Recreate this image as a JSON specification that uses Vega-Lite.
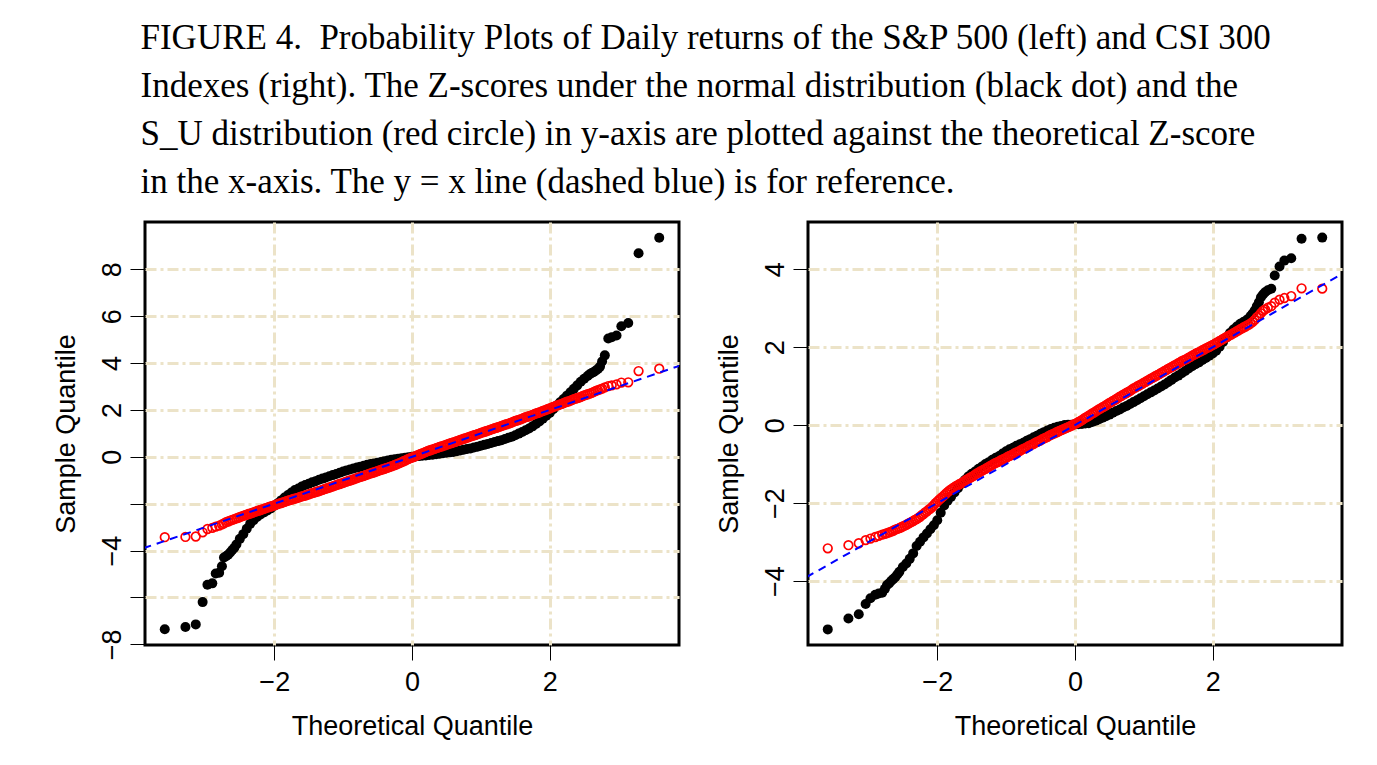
{
  "$schema": "https://vega.github.io/schema/vega-lite/v6.json",
  "background": "white",
  "padding": {"left": 50, "top": 20, "right": 5, "bottom": 5},
  "title": {
    "text": ["FIGURE 4.\u00a0 Probability Plots of Daily returns of the S&P 500 (left) and CSI 300", "Indexes (right). The Z-scores under the normal distribution (black dot) and the", "S_U distribution (red circle) in y-axis are plotted against the theoretical Z-score", "in the x-axis. The y = x line (dashed blue) is for reference."],
    "anchor": "start", "font": "Liberation Serif", "fontSize": 35, "fontWeight": "normal", "lineHeight": 48, "color": "black", "dx": 90, "offset": 21
  },
  "config": {
    "view": {"stroke": "black", "strokeWidth": 3},
    "axis": {
      "labelFont": "Liberation Sans", "labelFontSize": 27, "labelColor": "black",
      "titleFont": "Liberation Sans", "titleFontSize": 27, "titleFontWeight": "normal", "titleColor": "black",
      "domain": false, "ticks": true, "tickColor": "black", "tickWidth": 1, "tickSize": 15,
      "grid": true, "gridColor": "#ECE3C8", "gridWidth": 3, "gridDash": [11, 4, 3, 4], "gridOpacity": 1,
      "labelFlush": false, "labelOverlap": false
    }
  },
  "datasets": {
    "ref": [{"x": -3.9, "y": -3.9}, {"x": 3.9, "y": 3.9}],
    "sp_n": [{"x":-3.59,"y":-7.36},{"x":-3.29,"y":-7.26},{"x":-3.14,"y":-7.15},{"x":-3.04,"y":-6.2},{"x":-2.97,"y":-5.46},{"x":-2.9,"y":-5.4},{"x":-2.85,"y":-4.98},{"x":-2.8,"y":-4.95},{"x":-2.76,"y":-4.67},{"x":-2.73,"y":-4.3},{"x":-2.7,"y":-4.24},{"x":-2.67,"y":-4.18},{"x":-2.64,"y":-4.08},{"x":-2.61,"y":-3.98},{"x":-2.58,"y":-3.88},{"x":-2.55,"y":-3.74},{"x":-2.5,"y":-3.5},{"x":-2.45,"y":-3.3},{"x":-2.4,"y":-3.07},{"x":-2.35,"y":-2.86},{"x":-2.3,"y":-2.7},{"x":-2.25,"y":-2.57},{"x":-2.2,"y":-2.46},{"x":-2.15,"y":-2.37},{"x":-2.1,"y":-2.29},{"x":-2.05,"y":-2.2},{"x":-2,"y":-2.09},{"x":-1.95,"y":-1.98},{"x":-1.9,"y":-1.86},{"x":-1.85,"y":-1.74},{"x":-1.8,"y":-1.63},{"x":-1.75,"y":-1.52},{"x":-1.7,"y":-1.42},{"x":-1.65,"y":-1.35},{"x":-1.6,"y":-1.27},{"x":-1.55,"y":-1.2},{"x":-1.5,"y":-1.15},{"x":-1.45,"y":-1.09},{"x":-1.4,"y":-1.04},{"x":-1.35,"y":-0.98},{"x":-1.3,"y":-0.93},{"x":-1.25,"y":-0.88},{"x":-1.2,"y":-0.83},{"x":-1.15,"y":-0.78},{"x":-1.1,"y":-0.73},{"x":-1.05,"y":-0.68},{"x":-1,"y":-0.63},{"x":-0.95,"y":-0.58},{"x":-0.9,"y":-0.54},{"x":-0.85,"y":-0.5},{"x":-0.8,"y":-0.46},{"x":-0.75,"y":-0.42},{"x":-0.7,"y":-0.38},{"x":-0.65,"y":-0.34},{"x":-0.6,"y":-0.31},{"x":-0.55,"y":-0.28},{"x":-0.5,"y":-0.25},{"x":-0.45,"y":-0.22},{"x":-0.4,"y":-0.19},{"x":-0.35,"y":-0.16},{"x":-0.3,"y":-0.13},{"x":-0.25,"y":-0.1},{"x":-0.2,"y":-0.08},{"x":-0.15,"y":-0.06},{"x":-0.1,"y":-0.04},{"x":-0.05,"y":-0.02},{"x":0,"y":0},{"x":0.05,"y":0.01},{"x":0.1,"y":0.03},{"x":0.15,"y":0.05},{"x":0.2,"y":0.06},{"x":0.25,"y":0.08},{"x":0.3,"y":0.09},{"x":0.35,"y":0.11},{"x":0.4,"y":0.13},{"x":0.45,"y":0.15},{"x":0.5,"y":0.17},{"x":0.55,"y":0.19},{"x":0.6,"y":0.21},{"x":0.65,"y":0.24},{"x":0.7,"y":0.27},{"x":0.75,"y":0.3},{"x":0.8,"y":0.33},{"x":0.85,"y":0.36},{"x":0.9,"y":0.4},{"x":0.95,"y":0.43},{"x":1,"y":0.47},{"x":1.05,"y":0.51},{"x":1.1,"y":0.55},{"x":1.15,"y":0.59},{"x":1.2,"y":0.63},{"x":1.25,"y":0.67},{"x":1.3,"y":0.71},{"x":1.35,"y":0.76},{"x":1.4,"y":0.81},{"x":1.45,"y":0.86},{"x":1.5,"y":0.92},{"x":1.55,"y":0.99},{"x":1.6,"y":1.06},{"x":1.65,"y":1.13},{"x":1.7,"y":1.21},{"x":1.75,"y":1.3},{"x":1.8,"y":1.4},{"x":1.85,"y":1.51},{"x":1.9,"y":1.63},{"x":1.95,"y":1.75},{"x":2,"y":1.87},{"x":2.05,"y":2.03},{"x":2.1,"y":2.19},{"x":2.15,"y":2.33},{"x":2.2,"y":2.47},{"x":2.25,"y":2.61},{"x":2.3,"y":2.75},{"x":2.35,"y":2.9},{"x":2.4,"y":3.05},{"x":2.45,"y":3.2},{"x":2.5,"y":3.33},{"x":2.55,"y":3.45},{"x":2.58,"y":3.52},{"x":2.61,"y":3.58},{"x":2.64,"y":3.62},{"x":2.67,"y":3.68},{"x":2.7,"y":3.75},{"x":2.73,"y":3.85},{"x":2.76,"y":4.07},{"x":2.8,"y":4.33},{"x":2.85,"y":5.05},{"x":2.9,"y":5.1},{"x":2.97,"y":5.18},{"x":3.04,"y":5.57},{"x":3.14,"y":5.71},{"x":3.29,"y":8.69},{"x":3.59,"y":9.35}],
    "sp_su": [{"x":-3.59,"y":-3.43},{"x":-3.29,"y":-3.42},{"x":-3.14,"y":-3.4},{"x":-3.04,"y":-3.22},{"x":-2.97,"y":-3.08},{"x":-2.9,"y":-3.03},{"x":-2.85,"y":-2.98},{"x":-2.8,"y":-2.94},{"x":-2.76,"y":-2.88},{"x":-2.73,"y":-2.84},{"x":-2.7,"y":-2.79},{"x":-2.67,"y":-2.76},{"x":-2.64,"y":-2.72},{"x":-2.61,"y":-2.69},{"x":-2.58,"y":-2.66},{"x":-2.55,"y":-2.63},{"x":-2.5,"y":-2.57},{"x":-2.45,"y":-2.52},{"x":-2.4,"y":-2.47},{"x":-2.35,"y":-2.42},{"x":-2.3,"y":-2.37},{"x":-2.25,"y":-2.32},{"x":-2.2,"y":-2.27},{"x":-2.15,"y":-2.22},{"x":-2.1,"y":-2.17},{"x":-2.05,"y":-2.12},{"x":-2,"y":-2.07},{"x":-1.95,"y":-2.02},{"x":-1.9,"y":-1.97},{"x":-1.85,"y":-1.92},{"x":-1.8,"y":-1.87},{"x":-1.75,"y":-1.83},{"x":-1.7,"y":-1.78},{"x":-1.65,"y":-1.74},{"x":-1.6,"y":-1.69},{"x":-1.55,"y":-1.65},{"x":-1.5,"y":-1.6},{"x":-1.45,"y":-1.55},{"x":-1.4,"y":-1.51},{"x":-1.35,"y":-1.46},{"x":-1.3,"y":-1.41},{"x":-1.25,"y":-1.36},{"x":-1.2,"y":-1.31},{"x":-1.15,"y":-1.26},{"x":-1.1,"y":-1.21},{"x":-1.05,"y":-1.16},{"x":-1,"y":-1.11},{"x":-0.95,"y":-1.06},{"x":-0.9,"y":-1.01},{"x":-0.85,"y":-0.96},{"x":-0.8,"y":-0.91},{"x":-0.75,"y":-0.86},{"x":-0.7,"y":-0.81},{"x":-0.65,"y":-0.76},{"x":-0.6,"y":-0.71},{"x":-0.55,"y":-0.66},{"x":-0.5,"y":-0.61},{"x":-0.45,"y":-0.56},{"x":-0.4,"y":-0.51},{"x":-0.35,"y":-0.46},{"x":-0.3,"y":-0.41},{"x":-0.25,"y":-0.35},{"x":-0.2,"y":-0.29},{"x":-0.15,"y":-0.23},{"x":-0.1,"y":-0.16},{"x":-0.05,"y":-0.09},{"x":0,"y":-0.03},{"x":0.05,"y":0.03},{"x":0.1,"y":0.09},{"x":0.15,"y":0.15},{"x":0.2,"y":0.21},{"x":0.25,"y":0.27},{"x":0.3,"y":0.32},{"x":0.35,"y":0.37},{"x":0.4,"y":0.42},{"x":0.45,"y":0.47},{"x":0.5,"y":0.52},{"x":0.55,"y":0.57},{"x":0.6,"y":0.62},{"x":0.65,"y":0.67},{"x":0.7,"y":0.72},{"x":0.75,"y":0.77},{"x":0.8,"y":0.82},{"x":0.85,"y":0.87},{"x":0.9,"y":0.92},{"x":0.95,"y":0.97},{"x":1,"y":1.02},{"x":1.05,"y":1.07},{"x":1.1,"y":1.12},{"x":1.15,"y":1.17},{"x":1.2,"y":1.22},{"x":1.25,"y":1.27},{"x":1.3,"y":1.32},{"x":1.35,"y":1.37},{"x":1.4,"y":1.42},{"x":1.45,"y":1.47},{"x":1.5,"y":1.53},{"x":1.55,"y":1.58},{"x":1.6,"y":1.63},{"x":1.65,"y":1.69},{"x":1.7,"y":1.74},{"x":1.75,"y":1.79},{"x":1.8,"y":1.85},{"x":1.85,"y":1.9},{"x":1.9,"y":1.96},{"x":1.95,"y":2.01},{"x":2,"y":2.07},{"x":2.05,"y":2.13},{"x":2.1,"y":2.18},{"x":2.15,"y":2.24},{"x":2.2,"y":2.29},{"x":2.25,"y":2.35},{"x":2.3,"y":2.4},{"x":2.35,"y":2.46},{"x":2.4,"y":2.51},{"x":2.45,"y":2.56},{"x":2.5,"y":2.62},{"x":2.55,"y":2.67},{"x":2.58,"y":2.7},{"x":2.61,"y":2.73},{"x":2.64,"y":2.77},{"x":2.67,"y":2.81},{"x":2.7,"y":2.85},{"x":2.73,"y":2.88},{"x":2.76,"y":2.91},{"x":2.8,"y":2.96},{"x":2.85,"y":3.02},{"x":2.9,"y":3.05},{"x":2.97,"y":3.09},{"x":3.04,"y":3.17},{"x":3.14,"y":3.18},{"x":3.29,"y":3.66},{"x":3.59,"y":3.76},
      {"x":-2.525,"y":-2.6},{"x":-2.475,"y":-2.54},{"x":-2.425,"y":-2.49},{"x":-2.375,"y":-2.44},{"x":-2.325,"y":-2.39},{"x":-2.275,"y":-2.34},{"x":-2.225,"y":-2.29},{"x":-2.175,"y":-2.24},{"x":-2.125,"y":-2.19},{"x":-2.075,"y":-2.14},{"x":-2.025,"y":-2.09},{"x":-1.975,"y":-2.04},{"x":-1.925,"y":-1.99},{"x":-1.875,"y":-1.94},{"x":-1.825,"y":-1.89},{"x":-1.775,"y":-1.85},{"x":-1.725,"y":-1.8},{"x":-1.675,"y":-1.76},{"x":-1.625,"y":-1.71},{"x":-1.575,"y":-1.67},{"x":-1.525,"y":-1.62},{"x":-1.475,"y":-1.57},{"x":-1.425,"y":-1.53},{"x":-1.375,"y":-1.48},{"x":-1.325,"y":-1.43},{"x":-1.275,"y":-1.38},{"x":-1.225,"y":-1.33},{"x":-1.175,"y":-1.28},{"x":-1.125,"y":-1.23},{"x":-1.075,"y":-1.18},{"x":-1.025,"y":-1.13},{"x":-0.975,"y":-1.08},{"x":-0.925,"y":-1.03},{"x":-0.875,"y":-0.98},{"x":-0.825,"y":-0.93},{"x":-0.775,"y":-0.88},{"x":-0.725,"y":-0.83},{"x":-0.675,"y":-0.78},{"x":-0.625,"y":-0.73},{"x":-0.575,"y":-0.68},{"x":-0.525,"y":-0.63},{"x":-0.475,"y":-0.58},{"x":-0.425,"y":-0.53},{"x":-0.375,"y":-0.48},{"x":-0.325,"y":-0.43},{"x":-0.275,"y":-0.38},{"x":-0.225,"y":-0.32},{"x":-0.175,"y":-0.26},{"x":-0.125,"y":-0.19},{"x":-0.075,"y":-0.12},{"x":-0.025,"y":-0.06},{"x":0.025,"y":0},{"x":0.075,"y":0.06},{"x":0.125,"y":0.12},{"x":0.175,"y":0.18},{"x":0.225,"y":0.24},{"x":0.275,"y":0.29},{"x":0.325,"y":0.34},{"x":0.375,"y":0.39},{"x":0.425,"y":0.44},{"x":0.475,"y":0.49},{"x":0.525,"y":0.54},{"x":0.575,"y":0.59},{"x":0.625,"y":0.64},{"x":0.675,"y":0.69},{"x":0.725,"y":0.74},{"x":0.775,"y":0.79},{"x":0.825,"y":0.84},{"x":0.875,"y":0.89},{"x":0.925,"y":0.94},{"x":0.975,"y":0.99},{"x":1.025,"y":1.04},{"x":1.075,"y":1.09},{"x":1.125,"y":1.14},{"x":1.175,"y":1.19},{"x":1.225,"y":1.24},{"x":1.275,"y":1.29},{"x":1.325,"y":1.34},{"x":1.375,"y":1.39},{"x":1.425,"y":1.44},{"x":1.475,"y":1.5},{"x":1.525,"y":1.55},{"x":1.575,"y":1.6},{"x":1.625,"y":1.66},{"x":1.675,"y":1.71},{"x":1.725,"y":1.76},{"x":1.775,"y":1.82},{"x":1.825,"y":1.87},{"x":1.875,"y":1.93},{"x":1.925,"y":1.98},{"x":1.975,"y":2.04},{"x":2.025,"y":2.1},{"x":2.075,"y":2.15},{"x":2.125,"y":2.21},{"x":2.175,"y":2.26},{"x":2.225,"y":2.32},{"x":2.275,"y":2.37},{"x":2.325,"y":2.43},{"x":2.375,"y":2.48},{"x":2.425,"y":2.53},{"x":2.475,"y":2.59},{"x":2.525,"y":2.64}],
    "csi_n": [{"x":-3.59,"y":-5.24},{"x":-3.29,"y":-4.96},{"x":-3.14,"y":-4.85},{"x":-3.04,"y":-4.59},{"x":-2.97,"y":-4.44},{"x":-2.9,"y":-4.35},{"x":-2.85,"y":-4.32},{"x":-2.8,"y":-4.3},{"x":-2.76,"y":-4.2},{"x":-2.73,"y":-4.1},{"x":-2.7,"y":-4.06},{"x":-2.67,"y":-4},{"x":-2.64,"y":-3.95},{"x":-2.61,"y":-3.9},{"x":-2.58,"y":-3.83},{"x":-2.55,"y":-3.76},{"x":-2.5,"y":-3.64},{"x":-2.45,"y":-3.55},{"x":-2.4,"y":-3.43},{"x":-2.35,"y":-3.29},{"x":-2.3,"y":-3.1},{"x":-2.25,"y":-2.99},{"x":-2.2,"y":-2.88},{"x":-2.15,"y":-2.78},{"x":-2.1,"y":-2.67},{"x":-2.05,"y":-2.57},{"x":-2,"y":-2.44},{"x":-1.95,"y":-2.25},{"x":-1.9,"y":-2.06},{"x":-1.85,"y":-1.94},{"x":-1.8,"y":-1.84},{"x":-1.75,"y":-1.73},{"x":-1.7,"y":-1.62},{"x":-1.65,"y":-1.51},{"x":-1.6,"y":-1.41},{"x":-1.55,"y":-1.32},{"x":-1.5,"y":-1.25},{"x":-1.45,"y":-1.19},{"x":-1.4,"y":-1.12},{"x":-1.35,"y":-1.06},{"x":-1.3,"y":-1},{"x":-1.25,"y":-0.95},{"x":-1.2,"y":-0.89},{"x":-1.15,"y":-0.84},{"x":-1.1,"y":-0.79},{"x":-1.05,"y":-0.73},{"x":-1,"y":-0.67},{"x":-0.95,"y":-0.62},{"x":-0.9,"y":-0.58},{"x":-0.85,"y":-0.53},{"x":-0.8,"y":-0.49},{"x":-0.75,"y":-0.45},{"x":-0.7,"y":-0.4},{"x":-0.65,"y":-0.36},{"x":-0.6,"y":-0.31},{"x":-0.55,"y":-0.27},{"x":-0.5,"y":-0.22},{"x":-0.45,"y":-0.18},{"x":-0.4,"y":-0.14},{"x":-0.35,"y":-0.1},{"x":-0.3,"y":-0.07},{"x":-0.25,"y":-0.04},{"x":-0.2,"y":-0.02},{"x":-0.15,"y":0},{"x":-0.1,"y":0.01},{"x":-0.05,"y":0.01},{"x":0,"y":0.02},{"x":0.05,"y":0.02},{"x":0.1,"y":0.03},{"x":0.15,"y":0.04},{"x":0.2,"y":0.05},{"x":0.25,"y":0.08},{"x":0.3,"y":0.11},{"x":0.35,"y":0.15},{"x":0.4,"y":0.19},{"x":0.45,"y":0.23},{"x":0.5,"y":0.27},{"x":0.55,"y":0.32},{"x":0.6,"y":0.36},{"x":0.65,"y":0.4},{"x":0.7,"y":0.45},{"x":0.75,"y":0.49},{"x":0.8,"y":0.54},{"x":0.85,"y":0.59},{"x":0.9,"y":0.64},{"x":0.95,"y":0.69},{"x":1,"y":0.74},{"x":1.05,"y":0.79},{"x":1.1,"y":0.84},{"x":1.15,"y":0.89},{"x":1.2,"y":0.94},{"x":1.25,"y":0.99},{"x":1.3,"y":1.04},{"x":1.35,"y":1.1},{"x":1.4,"y":1.16},{"x":1.45,"y":1.22},{"x":1.5,"y":1.27},{"x":1.55,"y":1.33},{"x":1.6,"y":1.39},{"x":1.65,"y":1.45},{"x":1.7,"y":1.51},{"x":1.75,"y":1.56},{"x":1.8,"y":1.61},{"x":1.85,"y":1.67},{"x":1.9,"y":1.72},{"x":1.95,"y":1.78},{"x":2,"y":1.84},{"x":2.05,"y":1.91},{"x":2.1,"y":2.01},{"x":2.15,"y":2.13},{"x":2.2,"y":2.25},{"x":2.25,"y":2.36},{"x":2.3,"y":2.45},{"x":2.35,"y":2.53},{"x":2.4,"y":2.6},{"x":2.45,"y":2.65},{"x":2.5,"y":2.71},{"x":2.55,"y":2.8},{"x":2.58,"y":2.86},{"x":2.61,"y":2.94},{"x":2.64,"y":3.05},{"x":2.67,"y":3.15},{"x":2.7,"y":3.28},{"x":2.73,"y":3.35},{"x":2.76,"y":3.41},{"x":2.8,"y":3.46},{"x":2.85,"y":3.5},{"x":2.9,"y":3.84},{"x":2.97,"y":4.07},{"x":3.04,"y":4.22},{"x":3.14,"y":4.28},{"x":3.29,"y":4.78},{"x":3.59,"y":4.81}],
    "csi_su": [{"x":-3.59,"y":-3.16},{"x":-3.29,"y":-3.08},{"x":-3.14,"y":-3.03},{"x":-3.04,"y":-2.95},{"x":-2.97,"y":-2.91},{"x":-2.9,"y":-2.87},{"x":-2.85,"y":-2.84},{"x":-2.8,"y":-2.81},{"x":-2.76,"y":-2.79},{"x":-2.73,"y":-2.77},{"x":-2.7,"y":-2.75},{"x":-2.67,"y":-2.73},{"x":-2.64,"y":-2.71},{"x":-2.61,"y":-2.68},{"x":-2.58,"y":-2.66},{"x":-2.55,"y":-2.64},{"x":-2.5,"y":-2.6},{"x":-2.45,"y":-2.56},{"x":-2.4,"y":-2.51},{"x":-2.35,"y":-2.46},{"x":-2.3,"y":-2.41},{"x":-2.25,"y":-2.35},{"x":-2.2,"y":-2.28},{"x":-2.15,"y":-2.21},{"x":-2.1,"y":-2.14},{"x":-2.05,"y":-2.05},{"x":-2,"y":-1.96},{"x":-1.95,"y":-1.88},{"x":-1.9,"y":-1.8},{"x":-1.85,"y":-1.72},{"x":-1.8,"y":-1.65},{"x":-1.75,"y":-1.59},{"x":-1.7,"y":-1.54},{"x":-1.65,"y":-1.49},{"x":-1.6,"y":-1.43},{"x":-1.55,"y":-1.38},{"x":-1.5,"y":-1.33},{"x":-1.45,"y":-1.27},{"x":-1.4,"y":-1.22},{"x":-1.35,"y":-1.17},{"x":-1.3,"y":-1.12},{"x":-1.25,"y":-1.07},{"x":-1.2,"y":-1.02},{"x":-1.15,"y":-0.97},{"x":-1.1,"y":-0.93},{"x":-1.05,"y":-0.88},{"x":-1,"y":-0.84},{"x":-0.95,"y":-0.79},{"x":-0.9,"y":-0.75},{"x":-0.85,"y":-0.7},{"x":-0.8,"y":-0.66},{"x":-0.75,"y":-0.61},{"x":-0.7,"y":-0.57},{"x":-0.65,"y":-0.52},{"x":-0.6,"y":-0.48},{"x":-0.55,"y":-0.43},{"x":-0.5,"y":-0.39},{"x":-0.45,"y":-0.34},{"x":-0.4,"y":-0.3},{"x":-0.35,"y":-0.25},{"x":-0.3,"y":-0.21},{"x":-0.25,"y":-0.17},{"x":-0.2,"y":-0.13},{"x":-0.15,"y":-0.09},{"x":-0.1,"y":-0.05},{"x":-0.05,"y":-0.01},{"x":0,"y":0.03},{"x":0.05,"y":0.08},{"x":0.1,"y":0.13},{"x":0.15,"y":0.19},{"x":0.2,"y":0.24},{"x":0.25,"y":0.3},{"x":0.3,"y":0.35},{"x":0.35,"y":0.41},{"x":0.4,"y":0.46},{"x":0.45,"y":0.51},{"x":0.5,"y":0.57},{"x":0.55,"y":0.62},{"x":0.6,"y":0.67},{"x":0.65,"y":0.73},{"x":0.7,"y":0.78},{"x":0.75,"y":0.83},{"x":0.8,"y":0.88},{"x":0.85,"y":0.94},{"x":0.9,"y":0.99},{"x":0.95,"y":1.04},{"x":1,"y":1.09},{"x":1.05,"y":1.14},{"x":1.1,"y":1.19},{"x":1.15,"y":1.24},{"x":1.2,"y":1.29},{"x":1.25,"y":1.34},{"x":1.3,"y":1.39},{"x":1.35,"y":1.44},{"x":1.4,"y":1.49},{"x":1.45,"y":1.54},{"x":1.5,"y":1.59},{"x":1.55,"y":1.64},{"x":1.6,"y":1.68},{"x":1.65,"y":1.73},{"x":1.7,"y":1.78},{"x":1.75,"y":1.83},{"x":1.8,"y":1.87},{"x":1.85,"y":1.92},{"x":1.9,"y":1.97},{"x":1.95,"y":2.01},{"x":2,"y":2.06},{"x":2.05,"y":2.11},{"x":2.1,"y":2.16},{"x":2.15,"y":2.21},{"x":2.2,"y":2.26},{"x":2.25,"y":2.31},{"x":2.3,"y":2.36},{"x":2.35,"y":2.41},{"x":2.4,"y":2.46},{"x":2.45,"y":2.51},{"x":2.5,"y":2.56},{"x":2.55,"y":2.61},{"x":2.58,"y":2.65},{"x":2.61,"y":2.7},{"x":2.64,"y":2.76},{"x":2.67,"y":2.81},{"x":2.7,"y":2.87},{"x":2.73,"y":2.93},{"x":2.76,"y":2.97},{"x":2.8,"y":3.01},{"x":2.85,"y":3.05},{"x":2.9,"y":3.14},{"x":2.97,"y":3.22},{"x":3.04,"y":3.26},{"x":3.14,"y":3.31},{"x":3.29,"y":3.51},{"x":3.59,"y":3.5},
      {"x":-2.525,"y":-2.62},{"x":-2.475,"y":-2.58},{"x":-2.425,"y":-2.53},{"x":-2.375,"y":-2.48},{"x":-2.325,"y":-2.43},{"x":-2.275,"y":-2.38},{"x":-2.225,"y":-2.31},{"x":-2.175,"y":-2.24},{"x":-2.125,"y":-2.17},{"x":-2.075,"y":-2.1},{"x":-2.025,"y":-2},{"x":-1.975,"y":-1.92},{"x":-1.925,"y":-1.84},{"x":-1.875,"y":-1.76},{"x":-1.825,"y":-1.68},{"x":-1.775,"y":-1.62},{"x":-1.725,"y":-1.56},{"x":-1.675,"y":-1.51},{"x":-1.625,"y":-1.46},{"x":-1.575,"y":-1.4},{"x":-1.525,"y":-1.35},{"x":-1.475,"y":-1.3},{"x":-1.425,"y":-1.24},{"x":-1.375,"y":-1.19},{"x":-1.325,"y":-1.14},{"x":-1.275,"y":-1.09},{"x":-1.225,"y":-1.04},{"x":-1.175,"y":-0.99},{"x":-1.125,"y":-0.95},{"x":-1.075,"y":-0.9},{"x":-1.025,"y":-0.86},{"x":-0.975,"y":-0.81},{"x":-0.925,"y":-0.77},{"x":-0.875,"y":-0.72},{"x":-0.825,"y":-0.68},{"x":-0.775,"y":-0.63},{"x":-0.725,"y":-0.59},{"x":-0.675,"y":-0.54},{"x":-0.625,"y":-0.5},{"x":-0.575,"y":-0.45},{"x":-0.525,"y":-0.41},{"x":-0.475,"y":-0.36},{"x":-0.425,"y":-0.32},{"x":-0.375,"y":-0.27},{"x":-0.325,"y":-0.23},{"x":-0.275,"y":-0.19},{"x":-0.225,"y":-0.15},{"x":-0.175,"y":-0.11},{"x":-0.125,"y":-0.07},{"x":-0.075,"y":-0.03},{"x":-0.025,"y":0.01},{"x":0.025,"y":0.05},{"x":0.075,"y":0.1},{"x":0.125,"y":0.16},{"x":0.175,"y":0.21},{"x":0.225,"y":0.27},{"x":0.275,"y":0.32},{"x":0.325,"y":0.38},{"x":0.375,"y":0.43},{"x":0.425,"y":0.48},{"x":0.475,"y":0.54},{"x":0.525,"y":0.59},{"x":0.575,"y":0.64},{"x":0.625,"y":0.7},{"x":0.675,"y":0.75},{"x":0.725,"y":0.8},{"x":0.775,"y":0.85},{"x":0.825,"y":0.91},{"x":0.875,"y":0.96},{"x":0.925,"y":1.01},{"x":0.975,"y":1.06},{"x":1.025,"y":1.11},{"x":1.075,"y":1.16},{"x":1.125,"y":1.21},{"x":1.175,"y":1.26},{"x":1.225,"y":1.31},{"x":1.275,"y":1.36},{"x":1.325,"y":1.41},{"x":1.375,"y":1.46},{"x":1.425,"y":1.51},{"x":1.475,"y":1.56},{"x":1.525,"y":1.61},{"x":1.575,"y":1.66},{"x":1.625,"y":1.7},{"x":1.675,"y":1.75},{"x":1.725,"y":1.8},{"x":1.775,"y":1.85},{"x":1.825,"y":1.89},{"x":1.875,"y":1.94},{"x":1.925,"y":1.99},{"x":1.975,"y":2.03},{"x":2.025,"y":2.08},{"x":2.075,"y":2.13},{"x":2.125,"y":2.18},{"x":2.175,"y":2.23},{"x":2.225,"y":2.28},{"x":2.275,"y":2.33},{"x":2.325,"y":2.38},{"x":2.375,"y":2.43},{"x":2.425,"y":2.48},{"x":2.475,"y":2.53},{"x":2.525,"y":2.58}]
  },
  "spacing": 32,
  "hconcat": [
    {
      "width": 534, "height": 423,
      "encoding": {
        "x": {"field": "x", "type": "quantitative", "title": "Theoretical Quantile",
              "scale": {"domain": [-3.877, 3.877], "nice": false, "zero": false},
              "axis": {"values": [-2, 0, 2], "labelPadding": 9, "titlePadding": 18}},
        "y": {"field": "y", "type": "quantitative", "title": "Sample Quantile",
              "scale": {"domain": [-8.03, 10.02], "nice": false, "zero": false},
              "axis": {"values": [-8, -6, -4, -2, 0, 2, 4, 6, 8], "labelAngle": -90, "labelAlign": "center", "labelBaseline": "bottom", "labelPadding": 4, "titlePadding": 18,
                       "gridOpacity": {"condition": {"test": "datum.value == -8", "value": 0}, "value": 1},
                       "labelExpr": "datum.value == -2 || datum.value == -6 ? '' : datum.label"}}
      },
      "layer": [
        {"data": {"name": "sp_n"}, "mark": {"type": "point", "shape": "circle", "filled": true, "color": "black", "size": 100, "opacity": 1}},
        {"data": {"name": "sp_su"}, "mark": {"type": "point", "shape": "circle", "filled": false, "color": "red", "size": 74, "strokeWidth": 1.7, "opacity": 1}},
        {"data": {"name": "ref"}, "mark": {"type": "line", "color": "blue", "strokeWidth": 2, "strokeDash": [8, 6], "clip": true}, "encoding": {}}
      ]
    },
    {
      "width": 534, "height": 423,
      "encoding": {
        "x": {"field": "x", "type": "quantitative", "title": "Theoretical Quantile",
              "scale": {"domain": [-3.877, 3.877], "nice": false, "zero": false},
              "axis": {"values": [-2, 0, 2], "labelPadding": 9, "titlePadding": 18}},
        "y": {"field": "y", "type": "quantitative", "title": "Sample Quantile",
              "scale": {"domain": [-5.64, 5.21], "nice": false, "zero": false},
              "axis": {"values": [-4, -2, 0, 2, 4], "labelAngle": -90, "labelAlign": "center", "labelBaseline": "bottom", "labelPadding": 4, "titlePadding": 18}}
      },
      "layer": [
        {"data": {"name": "csi_n"}, "mark": {"type": "point", "shape": "circle", "filled": true, "color": "black", "size": 100, "opacity": 1}},
        {"data": {"name": "csi_su"}, "mark": {"type": "point", "shape": "circle", "filled": false, "color": "red", "size": 74, "strokeWidth": 1.7, "opacity": 1}},
        {"data": {"name": "ref"}, "mark": {"type": "line", "color": "blue", "strokeWidth": 2, "strokeDash": [8, 6], "clip": true}, "encoding": {}}
      ]
    }
  ]
}
